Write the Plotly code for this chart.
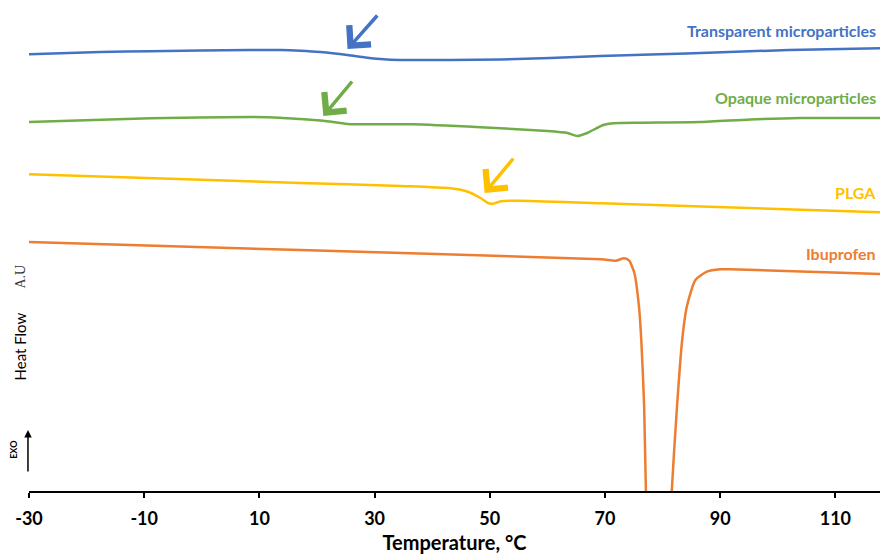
import plotly.graph_objects as go

# Temperature (°C) and heat flow (arbitrary units, offset per curve)
transparent_T = [-30, -17.6, -8.9, 8.4, 13.6, 17.1, 20.6, 25.3, 28.4, 31.0, 34.5, 43.2, 51.8, 60.5, 69.2, 77.9, 90.3, 101.9, 117.8]
transparent_hf = [436.7, 439, 439.7, 441, 441, 440.3, 439, 436, 433.5, 432, 431, 431, 431.5, 433, 435, 436.5, 438.7, 441, 442.7]

opaque_T = [-30, -8.9, 8.4, 13.6, 17.1, 21.1, 25.3, 31.0, 36.7, 48.4, 60.0, 63.5, 65.2, 66.9, 69.7, 71.4, 76.1, 86.5, 95.2, 103.9, 117.8]
opaque_hf = [369, 372.7, 374, 373.3, 372, 370.3, 367, 366.7, 366.7, 363.7, 360, 358, 355, 358, 366, 367.7, 368.3, 369, 371.5, 373, 373]

plga_T = [-30, 17.1, 34.5, 43.2, 46.2, 48.4, 49.8, 50.7, 51.9, 54.9, 69.3, 117.8]
plga_hf = [316.7, 308, 305, 302.7, 299.3, 293, 287.7, 287.5, 289.7, 290.3, 287.7, 278.7]

ibu_T = [-30, 17.1, 69.3, 71.9, 73.3, 74.2, 75.1, 75.9, 76.3, 76.8, 77.1, 77.8, 79.4, 81.0, 81.6, 82.5, 83.4, 84.2, 85.7, 87.7, 90.0, 91.8, 117.8]
ibu_hf = [249, 241, 231.7, 230.3, 232.7, 230.3, 218, 184.3, 151, 84.3, 1, -90, -130, -90, 1, 84.3, 151, 184.3, 211, 219.3, 221.7, 221.7, 217]

series_names = ["Transparent microparticles", "Opaque microparticles", "PLGA", "Ibuprofen"]
series_colors = ["#4472C4", "#70AD47", "#FFC000", "#ED7D31"]
label_y = [461, 394, 299, 238]

# Glass-transition arrows: (tail T, tail hf, head T, head hf)
arrow_tail_T = [30.7, 26.3, 54.3]
arrow_tail_hf = [477, 411, 334]
arrow_head_T = [25.3, 21.1, 49.1]
arrow_head_hf = [442, 375, 298]

x_ticks = [-30, -10, 10, 30, 50, 70, 90, 110]

fig = go.Figure()
data = [(transparent_T, transparent_hf), (opaque_T, opaque_hf), (plga_T, plga_hf), (ibu_T, ibu_hf)]
for (xs, ys), name, col in zip(data, series_names, series_colors):
    fig.add_trace(go.Scatter(x=xs, y=ys, mode="lines", name=name,
                             line=dict(color=col, width=2.5, shape="spline", smoothing=0.6),
                             showlegend=False, hoverinfo="skip"))

annotations = []
for name, col, yy in zip(series_names, series_colors, label_y):
    annotations.append(dict(x=0.998, xref="paper", y=yy, yref="y", text="<b>%s</b>" % name,
                            showarrow=False, xanchor="right", yanchor="middle",
                            font=dict(family="Lato", size=16, color=col)))
for i in range(3):
    annotations.append(dict(x=arrow_head_T[i], y=arrow_head_hf[i], xref="x", yref="y",
                            ax=arrow_tail_T[i], ay=arrow_tail_hf[i], axref="x", ayref="y",
                            text="", showarrow=True, arrowhead=4, arrowsize=1.6,
                            arrowwidth=3.5, arrowcolor=series_colors[i]))

# y-axis labels
annotations.append(dict(x=-0.010, xref="paper", y=(491 - 346) / 486, yref="paper", text="Heat Flow",
                        textangle=-90, showarrow=False, xanchor="center", yanchor="middle",
                        font=dict(family="Lato", size=15, color="black")))
annotations.append(dict(x=-0.010, xref="paper", y=(491 - 276) / 486, yref="paper", text="A.U",
                        textangle=-90, showarrow=False, xanchor="center", yanchor="middle",
                        font=dict(family="Liberation Serif", size=14, color="#333333")))
annotations.append(dict(x=-0.019, xref="paper", y=(491 - 450) / 486, yref="paper", text="<b>EXO</b>",
                        textangle=-90, showarrow=False, xanchor="center", yanchor="middle",
                        font=dict(family="Lato", size=9, color="black")))
annotations.append(dict(x=-0.0012, xref="paper", y=(491 - 430) / 486, yref="paper", text="",
                        showarrow=True, ax=0, ay=43, arrowhead=2, arrowsize=1, arrowwidth=1.5,
                        arrowcolor="black"))

fig.update_layout(
    width=880, height=556,
    margin=dict(l=29, r=0, t=5, b=65),
    paper_bgcolor="white", plot_bgcolor="white",
    annotations=annotations,
    xaxis=dict(range=[-30, -30 + 851 / 5.76], tickmode="array", tickvals=x_ticks,
               ticktext=[str(v) for v in x_ticks],
               showline=True, linecolor="black", linewidth=2,
               ticks="outside", ticklen=5, tickwidth=2, tickcolor="black",
               ticklabelstandoff=5,
               showgrid=False, zeroline=False,
               tickfont=dict(family="Lato", size=18, color="black", weight="bold"),
               title=dict(text="<b>Temperature, °C</b>", font=dict(family="Lato", size=20, color="black"),
                          standoff=8)),
    yaxis=dict(range=[0, 486], showticklabels=False, showgrid=False, zeroline=False,
               showline=False, ticks=""),
)

fig.write_html("out.html", config={"displayModeBar": False},
               post_script="document.body.style.margin='0';document.body.style.overflow='hidden';")
